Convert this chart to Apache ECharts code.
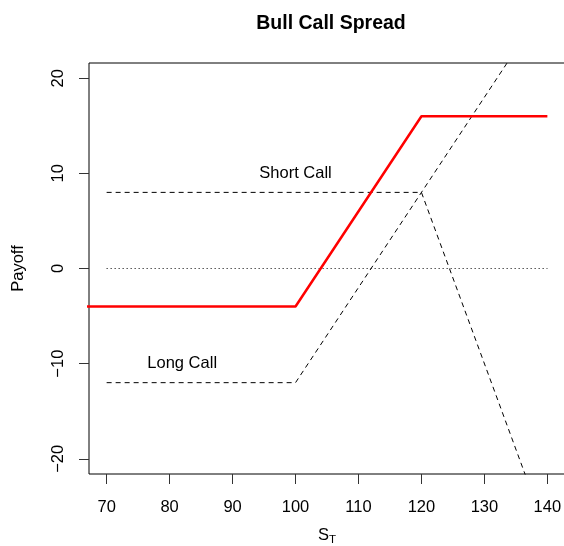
<!DOCTYPE html>
<html>
<head>
<meta charset="utf-8">
<title>Bull Call Spread</title>
<script src="https://cdn.jsdelivr.net/npm/echarts@6/dist/echarts.min.js"></script>
<style>
  html, body { margin: 0; padding: 0; background: #fff; }
  #chart { width: 564px; height: 546px; }
</style>
</head>
<body>
<div id="chart"></div>
<script>
// Payoff profiles at expiry, as [S_T, payoff] pairs
var spreadPayoff = [[60, -4], [100, -4], [120, 16], [140, 16]];
var longCallPayoff = [[70, -12], [100, -12], [140, 28]];
var shortCallPayoff = [[70, 8], [120, 8], [140, -28]];
var zeroLine = [[70, 0], [140, 0]];

// Text annotations placed in data coordinates
var annotations = [
  { name: 'Short Call', value: [100, 10] },
  { name: 'Long Call', value: [82, -10] }
];

var xTicks = [70, 80, 90, 100, 110, 120, 130, 140];
var yTicks = [-20, -10, 0, 10, 20];

var FONT = '"Liberation Sans", Arial, Helvetica, sans-serif';

// typographic minus sign for negative tick labels
function fmtTick(v) {
  return String(v).replace('-', '\u2212');
}

var chart = echarts.init(document.getElementById('chart'), null, { renderer: 'canvas' });

chart.setOption({
  animation: false,
  backgroundColor: '#ffffff',
  title: {
    text: 'Bull Call Spread',
    left: 326,
    top: 9,
    textAlign: 'center',
    textStyle: { fontFamily: FONT, fontSize: 19.5, fontWeight: 'bold', color: '#000' }
  },
  grid: {
    left: 89,
    top: 63,
    width: 476,
    height: 411,
    containLabel: false,
    outerBoundsMode: 'none',
    show: true,
    borderColor: '#000',
    borderWidth: 1,
    backgroundColor: 'transparent'
  },
  xAxis: {
    type: 'value',
    min: 67.2,
    max: 142.8,
    splitLine: { show: false },
    axisLine: { show: false, onZero: false },
    axisTick: { show: true, inside: false, length: 10, customValues: xTicks, lineStyle: { color: '#333', width: 1 } },
    axisLabel: { show: true, customValues: xTicks, margin: 25, fontFamily: FONT, fontSize: 16.5, color: '#000', formatter: fmtTick },
    name: '{s|S}{t|T}',
    nameLocation: 'middle',
    nameGap: 51,
    nameTextStyle: {
      fontFamily: FONT,
      color: '#000',
      rich: {
        s: { fontFamily: FONT, fontSize: 16.5, color: '#000' },
        t: { fontFamily: FONT, fontSize: 11.5, color: '#000', padding: [9, 0, 0, 0] }
      }
    }
  },
  yAxis: {
    type: 'value',
    min: -21.6,
    max: 21.6,
    splitLine: { show: false },
    axisLine: { show: false, onZero: false },
    axisTick: { show: true, inside: false, length: 10, customValues: yTicks, lineStyle: { color: '#333', width: 1 } },
    axisLabel: { show: true, customValues: yTicks, rotate: 90, margin: 22, fontFamily: FONT, fontSize: 16.5, color: '#000', formatter: fmtTick },
    name: 'Payoff',
    nameLocation: 'middle',
    nameRotate: 90,
    nameGap: 62,
    nameTextStyle: { fontFamily: FONT, fontSize: 16.5, color: '#000' }
  },
  series: [
    {
      name: 'Zero',
      type: 'line',
      data: zeroLine,
      symbol: 'none',
      silent: true,
      lineStyle: { color: '#000', width: 1, type: [1, 3] }
    },
    {
      name: 'Long Call',
      type: 'line',
      data: longCallPayoff,
      symbol: 'none',
      clip: true,
      lineStyle: { color: '#000', width: 1, type: [5, 4] }
    },
    {
      name: 'Short Call',
      type: 'line',
      data: shortCallPayoff,
      symbol: 'none',
      clip: true,
      lineStyle: { color: '#000', width: 1, type: [5, 4] }
    },
    {
      name: 'Bull Call Spread',
      type: 'line',
      data: spreadPayoff,
      symbol: 'none',
      clip: true,
      lineStyle: { color: '#ff0000', width: 2.5 }
    },
    {
      name: 'Labels',
      type: 'scatter',
      data: annotations,
      symbolSize: 0,
      silent: true,
      itemStyle: { opacity: 1 },
      label: {
        show: true,
        position: 'inside',
        formatter: function (p) { return p.name; },
        fontFamily: FONT,
        fontSize: 16.5,
        color: '#000',
        opacity: 1,
        textBorderWidth: 0
      }
    }
  ]
});
</script>
</body>
</html>
